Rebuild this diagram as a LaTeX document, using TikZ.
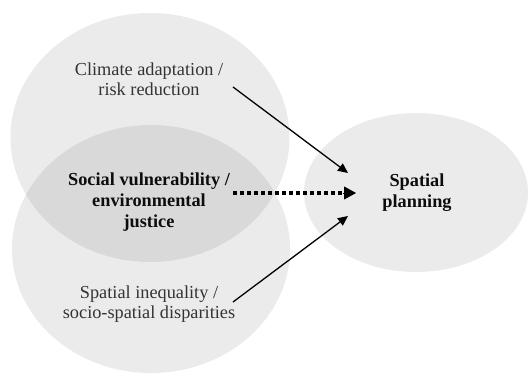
\documentclass[tikz,border=0pt]{standalone}
\usepackage{fontspec}
\setmainfont{Liberation Serif}
\usetikzlibrary{arrows.meta}
\begin{document}
\begin{tikzpicture}[x=1pt,y=-1pt,
  blob/.style={fill=black,fill opacity=0.08,draw=none},
  txt/.style={text=black!80,align=center,font=\fontsize{18.3}{20}\selectfont},
  btxt/.style={text=black!95,align=center,font=\fontsize{18.3}{21}\selectfont\bfseries},
  arr/.style={line width=1.3pt,-{Triangle[length=10pt,width=9pt]}}]
\useasboundingbox (0,0) rectangle (529,374);
\fill[blob] (150,137.5) ellipse [x radius=139.5, y radius=124.5];
\fill[blob] (151,249) ellipse [x radius=139, y radius=124];
\fill[blob] (416,192.5) ellipse [x radius=112, y radius=79.5];
\node[txt] (ca) at (149,79) {Climate adaptation /\\risk reduction};
\node[btxt] (sv) at (149,202) {Social vulnerability /\\environmental\\justice};
\node[txt] (si) at (149,304) {Spatial inequality /\\socio-spatial disparities};
\node[btxt] (sp) at (417,193) {Spatial\\planning};
\coordinate (a1s) at (233,87);
\coordinate (a1e) at (348,173);
\coordinate (a2s) at (233,193);
\coordinate (a2e) at (356,193);
\coordinate (a3s) at (233,302);
\coordinate (a3e) at (348,216);
\draw[arr] (a1s) -- (a1e);
\draw[arr] (a3s) -- (a3e);
\draw[line width=4pt,dash pattern=on 4pt off 3pt] (a2s) -- (344,193);
\draw[line width=1pt,-{Triangle[length=12pt,width=13pt]}] (343,193) -- (a2e);
\end{tikzpicture}
\end{document}
